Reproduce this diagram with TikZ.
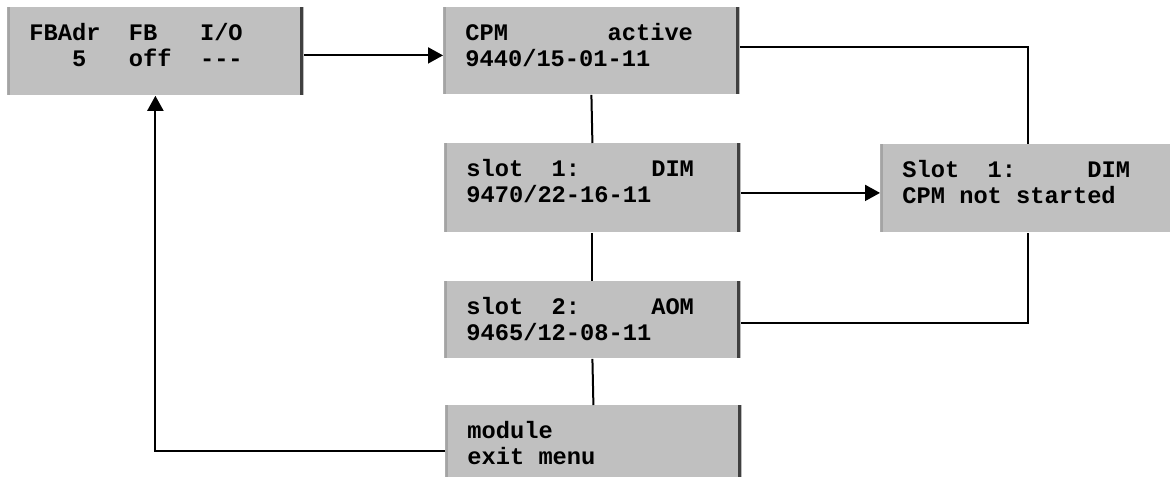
\documentclass[tikz,border=0pt]{standalone}
\usepackage{fontspec}
\newfontfamily\lcdfont{Liberation Mono}
\usetikzlibrary{arrows.meta}
\definecolor{boxgray}{HTML}{C0C0C0}
\definecolor{edgedark}{HTML}{404040}
\definecolor{edgelight}{HTML}{A4A4A4}
\tikzset{
  screen/.style={rectangle,fill=boxgray,inner sep=0pt,anchor=north west,
    minimum width=148pt,
    path picture={
      \draw[edgelight,line width=3pt](path picture bounding box.north west)--(path picture bounding box.south west);
      \draw[edgedark,line width=3pt](path picture bounding box.north east)--(path picture bounding box.south east);
    }},
  screentext/.style={anchor=north west,inner sep=0pt,align=left,
    font=\lcdfont\bfseries\fontsize{11.85}{13}\selectfont},
  conn/.style={line width=1pt},
  arr/.style={conn,-{Triangle[length=7.5pt,width=8pt]}}
}
\begin{document}
\begin{tikzpicture}[x=0.5pt,y=-0.5pt]
            \useasboundingbox (0,0) rectangle (1170,486);
            \node[screen,minimum height=44pt](fb) at (7,7){};
            \node[screen,minimum height=43.5pt](cpm) at (443,7){};
            \node[screen,minimum height=44.5pt](slota) at (444,143){};
            \node[screen,minimum height=38.5pt](slotb) at (444,281){};
            \node[screen,minimum height=36pt](modexit) at (445,405){};
            \node[screen,minimum height=44pt](dimerr) at (880,144){};
            \node[screentext](fbt) at ([shift={(11pt,-8pt)}]fb.north west){FBAdr~~FB~~~I/O\\~~~5~~~off~~---};
            \node[screentext](cpmt) at ([shift={(11pt,-8pt)}]cpm.north west){CPM~~~~~~~active\\9440/15-01-11};
            \node[screentext](slotat) at ([shift={(11pt,-8pt)}]slota.north west){slot~~1:~~~~~DIM\\9470/22-16-11};
            \node[screentext](slotbt) at ([shift={(11pt,-8pt)}]slotb.north west){slot~~2:~~~~~AOM\\9465/12-08-11};
            \node[screentext](modexitt) at ([shift={(11pt,-8pt)}]modexit.north west){module\\exit menu};
            \node[screentext](dimerrt) at ([shift={(11pt,-8pt)}]dimerr.north west){Slot~~1:~~~~~DIM\\CPM not started};
            \draw[arr]([yshift=-2pt]fb.east)--([yshift=-2pt]fb.east -| cpm.west);
            \draw[conn]([yshift=2pt]cpm.east)-|(dimerr.north);
            \draw[conn](cpm.south)--(slota.north);
            \draw[conn](slota.south)--(slotb.north);
            \draw[conn](slotb.south)--(modexit.north);
            \draw[arr]([yshift=-2.5pt]slota.east)--([yshift=-2.5pt]slota.east -| dimerr.west);
            \draw[conn]([yshift=-1.5pt]slotb.east)-|(dimerr.south);
            \draw[arr]([yshift=-5pt]modexit.west)-|(fb.south);
\end{tikzpicture}
\end{document}
